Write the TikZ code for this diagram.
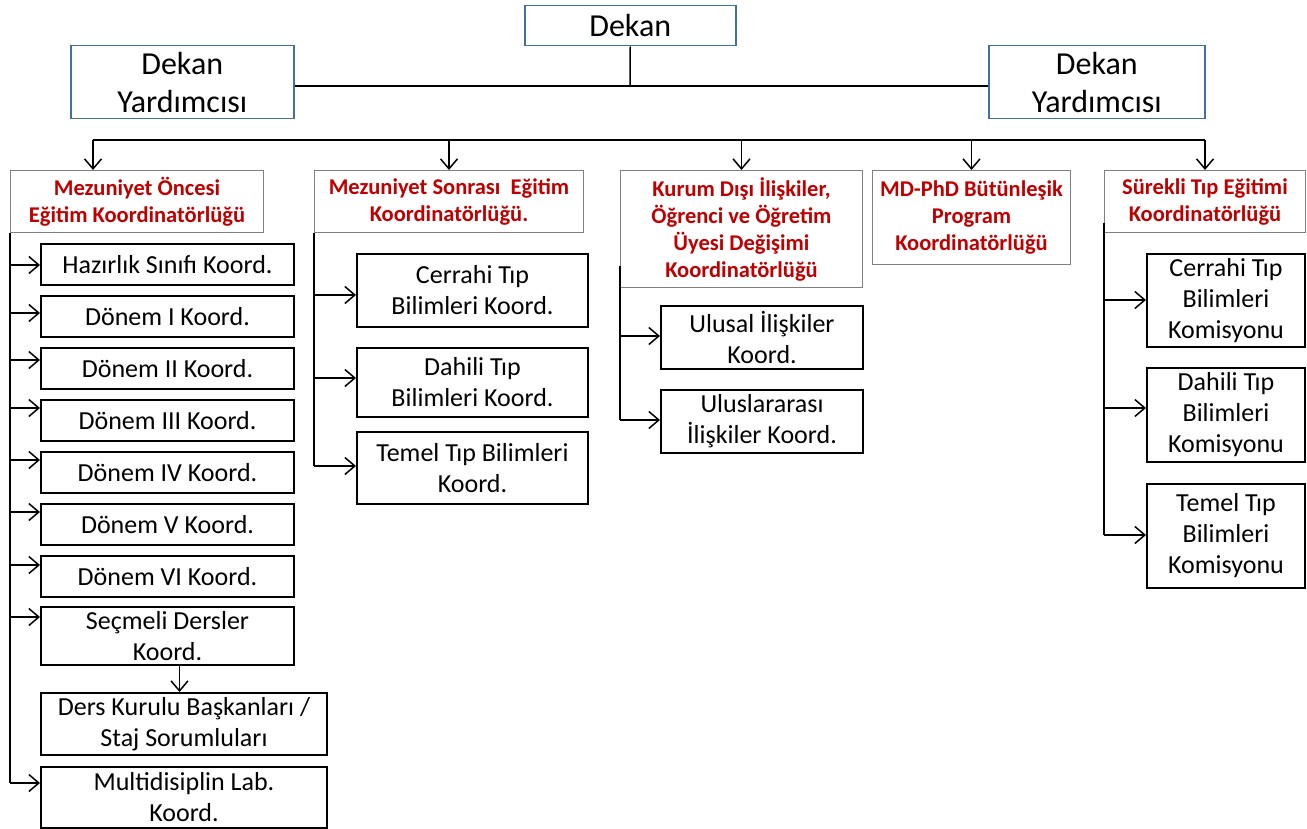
\documentclass[tikz,border=0pt]{standalone}
\usepackage{fontspec}
\setmainfont{Carlito}
\usepackage{tikz}
\usetikzlibrary{arrows.meta}
\definecolor{kirmizi}{HTML}{C00000}
\definecolor{mavi}{HTML}{41719C}
\tikzstyle{ust} = [draw=mavi, line width=1.5pt, align=center, inner sep=0pt, anchor=north west, font=\fontsize{32}{38}\selectfont]
\tikzstyle{baslik} = [draw=gray, line width=1pt, text=kirmizi, align=center, inner sep=0pt, anchor=north west, font=\fontsize{22.5}{27}\selectfont\bfseries]
\tikzstyle{birim} = [draw, line width=2pt, align=center, inner sep=0pt, anchor=north west, font=\fontsize{26}{31}\selectfont]
\tikzstyle{hat} = [line width=1.5pt]
\tikzstyle{ok} = [line width=1.5pt, -{Straight Barb[length=10pt,width=17pt]}]

\begin{document}
\begin{tikzpicture}[x=1pt,y=-1pt]
		\fill[white] (0,0) rectangle (1307,829);
		\useasboundingbox (0,0) rectangle (1307,829);
		% dekanlik
		\node[ust, minimum width=211pt, minimum height=40pt] (dekan) at (524,5) {Dekan};
		\node[ust, minimum width=223pt, minimum height=73pt] (yrdA) at (70,45) {Dekan\\Yardımcısı};
		\node[ust, minimum width=216pt, minimum height=73pt] (yrdB) at (988,45) {Dekan\\Yardımcısı};
		\coordinate (orta) at (630,86);
		\draw[hat] (dekan.south) -- (orta);
		\draw[hat] (yrdA.east |- orta) -- (yrdB.west |- orta);
		% koordinatorlukler
		\node[baslik, minimum width=253pt, minimum height=62pt] (mo) at (10,170) {Mezuniyet Öncesi\\Eğitim Koordinatörlüğü};
		\node[baslik, minimum width=269pt, minimum height=62pt] (ms) at (314,170) {Mezuniyet Sonrası~ Eğitim\\Koordinatörlüğü.};
		\node[baslik, minimum width=242pt, minimum height=117pt] (kd) at (620,170) {Kurum Dışı İlişkiler,\\Öğrenci ve Öğretim\\Üyesi Değişimi\\Koordinatörlüğü};
		\node[baslik, minimum width=198pt, minimum height=94pt] (md) at (872,170) {MD-PhD Bütünleşik\\Program\\Koordinatörlüğü};
		\node[baslik, minimum width=201pt, minimum height=62pt] (st) at (1104,170) {Sürekli Tıp Eğitimi\\Koordinatörlüğü};
		\coordinate (busA) at (93,140);
		\draw[hat] (busA) -- (busA -| st.north);
		\draw[ok] (busA) -- (busA |- mo.north);
		\foreach \k in {ms,kd,md,st}
			\draw[ok] (busA -| \k.north) -- (\k.north);
		% mezuniyet oncesi
		\node[birim, minimum width=253pt, minimum height=41pt] (hz) at (40,243) {Hazırlık Sınıfı Koord.};
		\node[birim, minimum width=253pt, minimum height=41pt] (d1) at (40,295) {Dönem I Koord.};
		\node[birim, minimum width=253pt, minimum height=41pt] (d2) at (40,347) {Dönem II Koord.};
		\node[birim, minimum width=253pt, minimum height=41pt] (d3) at (40,399) {Dönem III Koord.};
		\node[birim, minimum width=253pt, minimum height=41pt] (d4) at (40,451) {Dönem IV Koord.};
		\node[birim, minimum width=253pt, minimum height=41pt] (d5) at (40,503) {Dönem V Koord.};
		\node[birim, minimum width=253pt, minimum height=41pt] (d6) at (40,555) {Dönem VI Koord.};
		\node[birim, minimum width=253pt, minimum height=58pt] (sd) at (40,606) {Seçmeli Dersler\\Koord.};
		\node[birim, minimum width=286pt, minimum height=62pt] (dk) at (40,692) {Ders Kurulu Başkanları /\\Staj Sorumluları};
		\node[birim, minimum width=286pt, minimum height=61pt] (ml) at (40,766) {Multidisiplin Lab.\\Koord.};
		\draw[hat] (mo.south west) -- ([yshift=-17pt]mo.south west |- ml.north);
		\foreach \b/\d in {hz/22,d1/18,d2/13,d3/9,d4/9,d5/9,d6/10,sd/11,ml/17}
			\draw[ok] ([yshift=-\d pt]mo.south west |- \b.north) -- ([yshift=-\d pt]\b.north west);
		\draw[ok] ([xshift=12pt]sd.south) -- ([xshift=12pt]sd.south |- dk.north);
		% mezuniyet sonrasi
		\node[birim, minimum width=231pt, minimum height=73pt] (ct) at (356,253) {Cerrahi Tıp\\Bilimleri Koord.};
		\node[birim, minimum width=231pt, minimum height=69pt] (dt) at (356,347) {Dahili Tıp\\Bilimleri Koord.};
		\node[birim, minimum width=231pt, minimum height=72pt] (tt) at (356,431) {Temel Tıp Bilimleri\\Koord.};
		\draw[hat] (ms.south west) -- ([yshift=-35pt]ms.south west |- tt.north);
		\foreach \b/\d in {ct/42,dt/31,tt/35}
			\draw[ok] ([yshift=-\d pt]ms.south west |- \b.north) -- ([yshift=-\d pt]\b.north west);
		% kurum disi
		\node[birim, minimum width=202pt, minimum height=63pt] (ul) at (660,305) {Ulusal İlişkiler\\Koord.};
		\node[birim, minimum width=202pt, minimum height=63pt] (ula) at (660,389) {Uluslararası\\İlişkiler Koord.};
		\draw[hat] ([yshift=22pt]kd.south west) -- ([yshift=-31pt]kd.south west |- ula.north);
		\foreach \b in {ul,ula}
			\draw[ok] ([yshift=-31pt]kd.south west |- \b.north) -- ([yshift=-31pt]\b.north west);
		% surekli tip
		\node[birim, minimum width=158pt, minimum height=93pt] (cb) at (1146,253) {Cerrahi Tıp\\Bilimleri\\Komisyonu};
		\node[birim, minimum width=158pt, minimum height=94pt] (db) at (1146,367) {Dahili Tıp\\Bilimleri\\Komisyonu};
		\node[birim, minimum width=158pt, minimum height=104pt] (tb) at (1146,483) {Temel Tıp\\Bilimleri\\Komisyonu};
		\draw[hat] ([yshift=10pt]st.south west) -- ([yshift=-52pt]st.south west |- tb.north);
		\foreach \b/\d in {cb/47,db/41,tb/52}
			\draw[ok] ([yshift=-\d pt]st.south west |- \b.north) -- ([yshift=-\d pt]\b.north west);
	\end{tikzpicture}
\end{document}
